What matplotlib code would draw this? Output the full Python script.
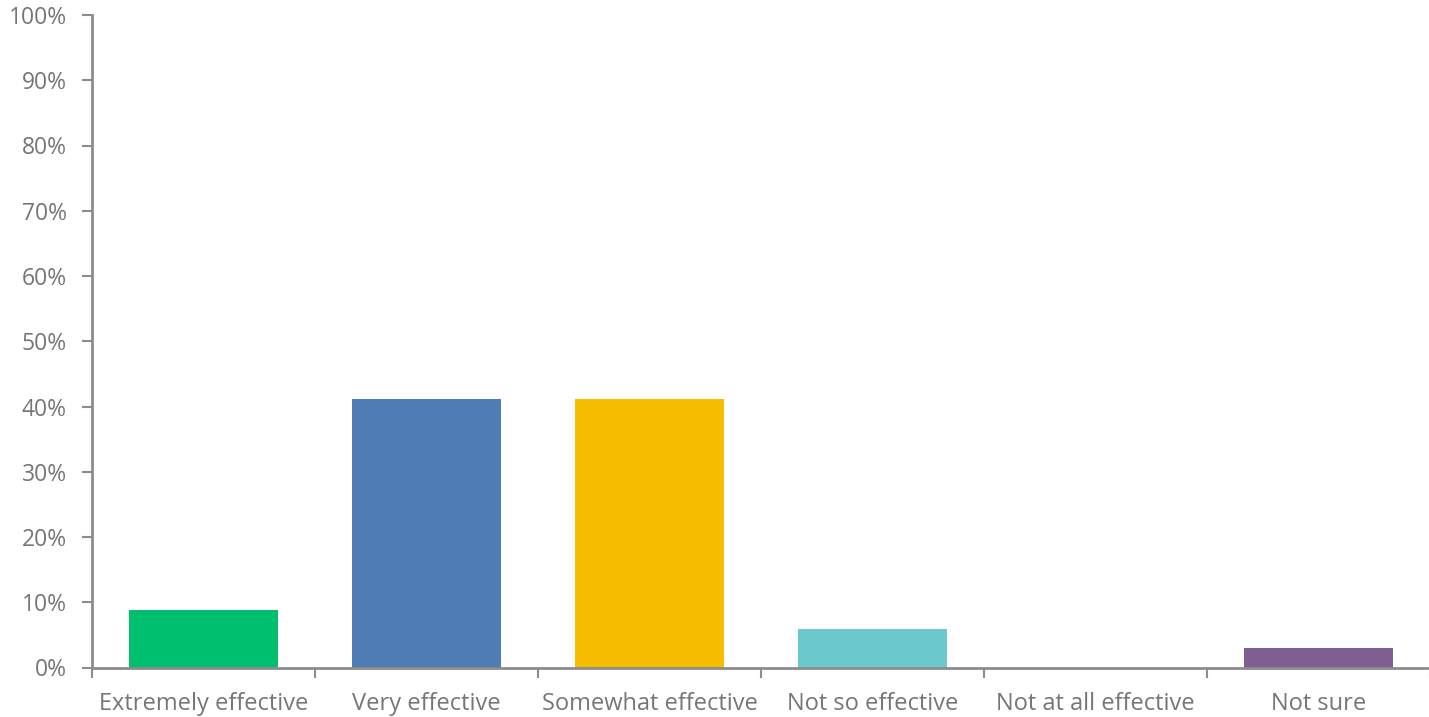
import matplotlib
matplotlib.use("Agg")
import matplotlib.pyplot as plt
from matplotlib.ticker import FixedLocator, PercentFormatter

categories = ["Extremely effective", "Very effective", "Somewhat effective",
              "Not so effective", "Not at all effective", "Not sure"]
values = [8.8, 41.1, 41.1, 5.9, 0.0, 3.0]
colors = ["#00BF6F", "#4F7CB4", "#F7BE00", "#6BC8CD", "#D9D9D9", "#7E5F8F"]
y_ticks = list(range(0, 101, 10))

text_color = "#767676"
axis_color = "#8C8C8C"

plt.rcParams["font.family"] = ["Open Sans", "DejaVu Sans"]

fig = plt.figure(figsize=(14.29, 7.17), dpi=100)
ax = fig.add_axes([92 / 1429, 49.5 / 717, 1338 / 1429, 652.5 / 717])

x = list(range(len(categories)))
ax.bar(x, values, width=0.67, color=colors, zorder=2)

ax.set_xlim(-0.5, len(categories) - 0.5)
ax.set_ylim(0, 100)

ax.set_yticks(y_ticks)
ax.yaxis.set_major_formatter(PercentFormatter(decimals=0))
ax.set_xticks(x)
ax.set_xticklabels(categories)
ax.xaxis.set_minor_locator(FixedLocator([i + 0.5 for i in range(-1, len(categories))]))

ax.tick_params(axis="y", length=7, width=1.5, color=axis_color,
               labelcolor=text_color, labelsize=16.5, pad=11)
ax.tick_params(axis="x", which="major", length=0, labelcolor=text_color,
               labelsize=17, pad=17.5)
ax.tick_params(axis="x", which="minor", length=7, width=1.5, color=axis_color)

for side in ("top", "right"):
    ax.spines[side].set_visible(False)
for side in ("left", "bottom"):
    ax.spines[side].set_color(axis_color)
    ax.spines[side].set_linewidth(2)
ax.spines["bottom"].set_zorder(3)

fig.savefig("out.png", dpi=100, facecolor="white")
